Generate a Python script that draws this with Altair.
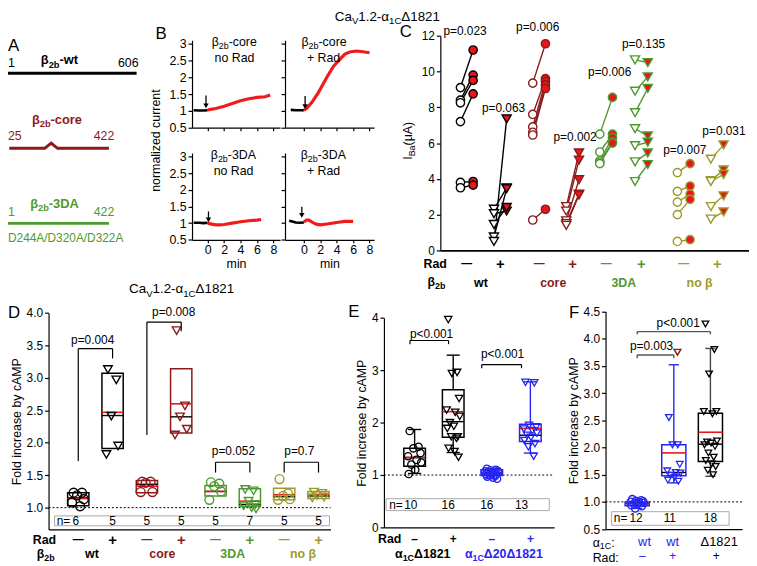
import altair as alt
import pandas as pd

FONT = "Liberation Sans"
W, H = 749, 558
DARKRED = "#8b1a1a"
GREEN = "#4f9a2f"
OLIVE = "#9d9a2b"
BLUE = "#2525f2"
RED = "#e8161b"
NBOX = "#a8a8a8"

# ===================== DATA =====================
# ---- Panel A: construct schematics (schematic units) ----
a_x_start = [0.0, 1.0, 0.0]
a_x_end = [100.0, 78.5, 78.5]
a_row = [0, 1, 2]
a_colors = ["black", DARKRED, GREEN]
a_core_x = [1.0, 28.5, 33.6, 38.5, 78.5]
a_core_y = [1.0, 1.0, 0.93, 1.0, 1.0]

# ---- Panel B: normalized current traces (min, normalized) ----
b_tl_base_t = [-1.7, -1.1, -0.5, 0.0]
b_tl_base_v = [1.02, 1.01, 1.01, 1.02]
b_tl_t = [0.0, 1.0, 2.0, 3.0, 4.0, 5.0, 6.0, 7.0, 7.6]
b_tl_v = [1.03, 1.07, 1.14, 1.22, 1.30, 1.36, 1.40, 1.42, 1.47]
b_tr_base_t = [-1.6, -1.0, -0.5, 0.0]
b_tr_base_v = [1.03, 1.02, 1.02, 1.02]
b_tr_t = [0.0, 0.4, 1.0, 1.8, 2.8, 3.6, 4.4, 5.0, 5.6, 6.4, 7.2, 8.0]
b_tr_v = [1.02, 1.09, 1.26, 1.56, 2.00, 2.32, 2.54, 2.69, 2.75, 2.78, 2.76, 2.73]
b_bl_base_t = [-1.7, -1.0, -0.5, 0.0]
b_bl_base_v = [1.01, 1.01, 1.00, 1.01]
b_bl_t = [0.0, 0.5, 1.0, 1.5, 2.0, 3.0, 4.0, 5.0, 6.0, 6.5]
b_bl_v = [1.00, 0.97, 0.95, 0.95, 0.96, 1.00, 1.04, 1.07, 1.09, 1.11]
b_br_base_t = [-1.8, -1.4, -1.0, -0.5, 0.0]
b_br_base_v = [1.07, 1.05, 1.02, 1.01, 1.02]
b_br_t = [0.0, 0.3, 0.6, 1.0, 1.5, 2.0, 3.0, 4.0, 5.0, 6.0]
b_br_v = [1.03, 1.09, 1.09, 1.03, 0.97, 0.95, 0.98, 1.02, 1.05, 1.05]
b_arrow_t = [-0.2, 0.15, 0.1, -0.25]
b_arrow_top = [1.46, 1.44, 1.35, 1.49]
b_arrow_tip = [1.09, 1.07, 1.04, 1.17]

# ---- Panel C: I_Ba before (open) / after (filled) ----
c_before = [
    [9.10, 8.40, 8.25, 7.20, 3.80, 3.50],
    [2.30, 2.05, 1.45, 0.75, 0.50],
    [9.35, 7.60, 6.90, 6.60, 6.45, 1.70],
    [2.45, 2.20, 1.65, 1.50, 1.40],
    [6.50, 5.50, 5.00, 4.90, 4.85],
    [10.65, 8.90, 7.70, 6.80, 5.85, 4.95, 3.85],
    [4.35, 3.30, 2.70, 2.00, 0.50],
    [5.10, 3.90, 3.85, 2.45, 1.75],
]
c_after = [
    [11.20, 9.80, 9.50, 8.75, 3.85, 3.65],
    [3.50, 2.20, 2.40, 3.45, 7.35],
    [11.55, 9.60, 9.45, 9.25, 9.05, 2.30],
    [5.45, 5.05, 3.95, 3.15, 3.10],
    [8.55, 6.50, 6.30, 6.05, 6.00],
    [10.50, 9.70, 9.05, 6.40, 6.05, 5.45, 4.80],
    [4.85, 3.60, 3.15, 2.85, 0.60],
    [5.90, 4.50, 4.25, 3.05, 2.15],
]
c_colors = ["black", "black", DARKRED, DARKRED, GREEN, GREEN, OLIVE, OLIVE]
c_pos = [0.0, 0.95, 2.05, 3.0, 3.95, 4.95, 6.15, 7.1]
c_p_text = ["p=0.023", "p=0.063", "p=0.006", "p=0.002", "p=0.006", "p=0.135", "p=0.007", "p=0.031"]
c_p_x = [-0.05, 1.04, 2.01, 3.07, 4.05, 5.01, 6.18, 7.29]
c_p_y = [12.28, 7.96, 12.5, 6.36, 9.96, 11.56, 5.59, 6.69]
c_group = ["wt", "core", "3DA", "no β"]
c_group_x = [0.4, 2.45, 4.45, 6.6]
group_colors = ["black", DARKRED, GREEN, OLIVE]

# ---- Panel D ----
d_q1 = [1.03, 1.91, 1.23, 2.15, 1.18, 1.02, 1.12, 1.14]
d_q3 = [1.23, 3.07, 1.42, 3.14, 1.34, 1.29, 1.30, 1.25]
d_median = [1.15, 2.42, 1.36, 2.40, 1.25, 1.05, 1.17, 1.18]
d_mean = [1.14, 2.47, 1.33, 2.60, 1.25, 1.10, 1.20, 1.20]
d_points = [
    [1.23, 1.23, 1.19, 1.13, 1.08, 1.02],
    [3.13, 2.97, 2.41, 1.95, 1.82],
    [1.40, 1.40, 1.38, 1.24, 1.24],
    [3.73, 2.57, 2.40, 2.21, 2.12],
    [1.39, 1.37, 1.33, 1.25, 1.12],
    [1.28, 1.26, 1.10, 1.05, 1.03, 1.00, 0.98],
    [1.44, 1.22, 1.18, 1.13, 1.12],
    [1.24, 1.22, 1.19, 1.16, 1.15],
]
d_n = ["6", "5", "5", "5", "5", "7", "5", "5"]
d_p_text = ["p=0.004", "p=0.008", "p=0.052", "p=0.7"]
d_p_x = [0.42, 2.78, 4.52, 6.44]
d_p_y = [3.58, 4.02, 1.87, 1.87]
d_br_a = [0, 2, 4, 6]
d_br_b = [1, 3, 5, 7]
d_br_top = [3.45, 3.86, 1.70, 1.70]
d_br_left = [1.72, 2.12, 1.54, 1.54]
d_br_right = [3.30, 3.72, 1.54, 1.54]
d_group_x = [0.4, 2.45, 4.5, 6.55]

# ---- Panel E ----
e_q1 = [1.17, 1.72, 0.99, 1.64]
e_q3 = [1.51, 2.63, 1.10, 1.97]
e_median = [1.33, 2.02, 1.04, 1.76]
e_mean = [1.34, 2.21, 1.04, 1.89]
e_lo = [1.03, 1.43, 0.93, 1.42]
e_hi = [1.87, 3.29, 1.12, 2.78]
e_points = [
    [1.84, 1.54, 1.51, 1.42, 1.36, 1.29, 1.24, 1.20, 1.10, 1.02],
    [3.97, 2.96, 2.94, 2.46, 2.24, 2.20, 2.12, 2.00, 1.93, 1.89, 1.73, 1.73, 1.70, 1.51, 1.45, 1.34],
    [1.12, 1.10, 1.09, 1.08, 1.07, 1.06, 1.05, 1.04, 1.03, 1.02, 1.01, 1.00, 0.99, 0.97, 0.95, 0.93],
    [2.77, 2.76, 1.95, 1.92, 1.88, 1.85, 1.80, 1.76, 1.72, 1.66, 1.60, 1.54, 1.36],
]
e_colors = ["black", "black", BLUE, BLUE]
e_rad = ["–", "+", "–", "+"]
e_n = ["10", "16", "16", "13"]
e_n_x = [-0.1, 0.87, 1.87, 2.77]

# ---- Panel F ----
f_q1 = [0.93, 1.48, 1.74]
f_q3 = [1.00, 2.05, 2.63]
f_median = [0.97, 1.54, 2.06]
f_mean = [0.97, 1.90, 2.28]
f_lo = [0.88, 1.35, 1.47]
f_hi = [1.05, 3.52, 3.82]
f_points = [
    [1.05, 1.03, 1.02, 1.01, 1.00, 0.99, 0.98, 0.97, 0.96, 0.94, 0.92, 0.88],
    [2.55, 2.05, 2.05, 1.69, 1.57, 1.54, 1.53, 1.49, 1.45, 1.40, 1.38],
    [4.27, 3.80, 3.35, 2.66, 2.66, 2.62, 2.12, 2.10, 2.08, 2.05, 2.02, 1.90, 1.82, 1.76, 1.70, 1.65, 1.58, 1.50],
]
f_outlier = [3.75]
f_colors = [BLUE, BLUE, "black"]
f_label = ["wt", "wt", "Δ1821"]
f_label_x = [0.2, 0.97, 2.24]
f_rad = ["–", "+", "+"]
f_rad_x = [0.14, 0.97, 2.16]
f_n = ["12", "11", "18"]
f_n_x = [-0.03, 0.89, 2.0]

JIT = [-0.15, 0.12, -0.04, 0.18, -0.2, 0.06, 0.2, -0.1, 0.02, -0.18, 0.14, -0.06,
       0.1, -0.14, 0.04, 0.16, -0.08, 0.08]

# ===================== HELPERS =====================
W_REG = {' ': 278, '(': 333, ')': 333, '+': 584, '-': 333, '.': 278, '/': 278, ':': 278,
         '<': 584, '=': 584, 'A': 667, 'B': 667, 'C': 722, 'D': 722, 'I': 278, 'R': 722,
         'V': 667, 'a': 556, 'b': 556, 'c': 500, 'd': 556, 'e': 556, 'i': 222, 'l': 222,
         'm': 833, 'n': 556, 'o': 556, 'p': 556, 'r': 333, 't': 278, 'u': 556, 'w': 722,
         's': 500, 'z': 500, 'α': 578, 'β': 575, 'Δ': 668, 'μ': 576}
W_BOLD = {**W_REG, **{'A': 722, 'B': 722, 'R': 722, 'b': 611, 'c': 556, 'd': 611, 'o': 611,
                      'r': 389, 't': 333, 'w': 778, 'n': 611, 'i': 278, 'l': 278, 'u': 611,
                      'β': 611, 'α': 611, 'Δ': 722}}

ANN_N, ANN_B = [], []


def ann(parts, x, y, size, color="black", bold=False, anchor="start", angle=0, sub_shift=0.27):
    if isinstance(parts, str):
        parts = [(parts, False)]
    tbl = W_BOLD if bold else W_REG
    sub = size * 0.72
    ws = [sum(tbl.get(ch, 556) for ch in t) * (sub if s else size) / 1000 for t, s in parts]
    total = sum(ws)
    cur = {"start": 0.0, "middle": -total / 2, "end": -total}[anchor]
    rows = ANN_B if bold else ANN_N
    for (t, s), w in zip(parts, ws):
        shift = size * sub_shift if s else 0.0
        fs = sub if s else size
        if angle == 0:
            px, py = x + cur, y + shift
        else:
            px, py = x + shift, y - cur
        rows.append(dict(x=px, y=py, text=t, size=fs, color=color, angle=angle))
        cur += w


def sc(d, r):
    return alt.Scale(domain=list(d), range=list(r), nice=False, zero=False)


AX = dict(grid=False, domainColor="black", tickColor="black", domainWidth=1.2, tickWidth=1.2,
          tickSize=4, labelFont=FONT, labelFontSize=12, labelColor="black", labelPadding=2,
          titleFont=FONT, titleFontSize=12.5, titleFontWeight="normal", titleColor="black",
          titlePadding=3, labelFlush=False, labelOverlap=False)


class Panel:
    def __init__(self, xd, xr, yd, yr, has_axes=True):
        self.xs = sc(xd, xr)
        self.ys = sc(yd, yr)
        self.xd, self.yd = xd, yd
        self.layers = []
        # layers other than the axis carrier leave the axis undefined (so the carrier's
        # explicit settings win) or switch it off when the panel has no axes at all
        self.dax = alt.Undefined if has_axes else None

    def x(self, f="x", axis="dflt"):
        return alt.X(f + ":Q", scale=self.xs, axis=self.dax if axis == "dflt" else axis)

    def y(self, f="y", axis="dflt"):
        return alt.Y(f + ":Q", scale=self.ys, axis=self.dax if axis == "dflt" else axis)

    def axes(self, xaxis, yaxis):
        df = pd.DataFrame({"x": [self.xd[0]], "y": [self.yd[0]]})
        self.layers.insert(0, alt.Chart(df).mark_point(opacity=0).encode(
            x=self.x("x", xaxis), y=self.y("y", yaxis)))

    def chart(self):
        return alt.layer(*self.layers)


def rule_layer(p, rows, width=1.2, dash=None):
    kw = dict(strokeWidth=width)
    if dash:
        kw["strokeDash"] = dash
    return alt.Chart(pd.DataFrame(rows)).mark_rule(**kw).encode(
        x=p.x("x"), x2=alt.X2("x2"), y=p.y("y"), y2=alt.Y2("y2"),
        color=alt.Color("color:N", scale=None))


def rect_layer(p, rows, width=1.4):
    return alt.Chart(pd.DataFrame(rows)).mark_rect(fillOpacity=0, strokeWidth=width).encode(
        x=p.x("x"), x2=alt.X2("x2"), y=p.y("y"), y2=alt.Y2("y2"),
        stroke=alt.Stroke("color:N", scale=None))


def point_layer(p, rows, sw=1.3, filled=False):
    enc = dict(x=p.x("x"), y=p.y("y"), shape=alt.Shape("shape:N", scale=None),
               stroke=alt.Stroke("color:N", scale=None), size=alt.Size("size:Q", scale=None))
    if filled:
        enc["fill"] = alt.Fill("fill:N", scale=None)
    return alt.Chart(pd.DataFrame(rows)).mark_point(strokeWidth=sw, opacity=1, filled=False).encode(**enc)


def text_layer(p, rows, bold=False, align="center", baseline="middle"):
    return alt.Chart(pd.DataFrame(rows)).mark_text(
        font=FONT, fontWeight="bold" if bold else "normal", align=align, baseline=baseline).encode(
        x=p.x("x"), y=p.y("y"), text=alt.Text("text:N"),
        size=alt.Size("size:Q", scale=None), color=alt.Color("color:N", scale=None))


def line_layer(p, xs, ys, color, width):
    df = pd.DataFrame({"x": xs, "y": ys, "o": list(range(len(xs)))})
    return alt.Chart(df).mark_line(color=color, strokeWidth=width).encode(
        x=p.x("x"), y=p.y("y"), order=alt.Order("o:Q"))


def box_layers(p, q1, q3, med, mean, colors, hw, lo=None, hi=None, cw=0.0, wcolors=None):
    n = len(q1)
    out = []
    if lo is not None:
        wr = []
        for i in range(n):
            c = wcolors[i]
            wr += [dict(x=i, x2=i, y=lo[i], y2=q1[i], color=c),
                   dict(x=i, x2=i, y=q3[i], y2=hi[i], color=c),
                   dict(x=i - cw, x2=i + cw, y=lo[i], y2=lo[i], color=c),
                   dict(x=i - cw, x2=i + cw, y=hi[i], y2=hi[i], color=c)]
        out.append(rule_layer(p, wr, 1.4))
    out.append(rect_layer(p, [dict(x=i - hw, x2=i + hw, y=q1[i], y2=q3[i], color=colors[i])
                              for i in range(n)], 1.5))
    out.append(rule_layer(p, [dict(x=i - hw, x2=i + hw, y=med[i], y2=med[i], color="black")
                              for i in range(n)], 1.4))
    out.append(rule_layer(p, [dict(x=i - hw, x2=i + hw, y=mean[i], y2=mean[i], color=RED)
                              for i in range(n)], 1.6))
    return out


def scatter_rows(points, colors, shapes, sizes, js=1.0):
    rows = []
    for i, vals in enumerate(points):
        for k, v in enumerate(vals):
            rows.append(dict(x=i + JIT[k % len(JIT)] * js, y=v, color=colors[i],
                             shape=shapes[i], size=sizes[i]))
    return rows


def bracket_rows(a, b, top, left, right, color="black"):
    return [dict(x=a, x2=a, y=left, y2=top, color=color),
            dict(x=a, x2=b, y=top, y2=top, color=color),
            dict(x=b, x2=b, y=right, y2=top, color=color)]


panels = []

# ===================== PANEL A =====================
A = Panel([0, 100], [0, 130], [0, 2], [63, 214.7], has_axes=False)
A.layers.append(rule_layer(A, [dict(x=a_x_start[i], x2=a_x_end[i], y=a_row[i], y2=a_row[i], color=a_colors[i])
                               for i in (0, 2)], 3))
A.layers.append(line_layer(A, a_core_x, a_core_y, DARKRED, 3))
panels.append(A.chart())

# ===================== PANEL B =====================
b_specs = [
    ([186, 275], [-1.9, 8.8], [118, 29.6], True, False, b_tl_base_t, b_tl_base_v, b_tl_t, b_tl_v, 0),
    ([280, 370], [-2.3, 8.55], [118, 29.6], False, False, b_tr_base_t, b_tr_base_v, b_tr_t, b_tr_v, 1),
    ([186, 275], [-1.9, 8.8], [231.3, 143.6], True, True, b_bl_base_t, b_bl_base_v, b_bl_t, b_bl_v, 2),
    ([280, 370], [-2.3, 8.55], [231.3, 143.6], False, True, b_br_base_t, b_br_base_v, b_br_t, b_br_v, 3),
]
for xr, xd, yr, ylab, xlab, bt, bv, rt, rv, k in b_specs:
    P = Panel(xd, xr, [0.5, 3.1], yr)
    xax = alt.Axis(orient="bottom", offset=yr[0] - H, values=[0, 2, 4, 6, 8], format="d", labels=xlab,
                   title="min" if xlab else None, **{**AX, "tickSize": 3, "labelPadding": 1,
                                                      "titlePadding": 1, "labelFontSize": 12.5})
    yax = alt.Axis(orient="left", offset=-xr[0], values=[0.5, 1, 1.5, 2, 2.5, 3], format="~g",
                   labels=ylab, title=None, **{**AX, "labelFontSize": 12.5})
    P.axes(xax, yax)
    P.layers.append(line_layer(P, bt, bv, "black", 2.6))
    P.layers.append(line_layer(P, rt, rv, "#ee1c1c", 3.2))
    P.layers.append(rule_layer(P, [dict(x=b_arrow_t[k], x2=b_arrow_t[k], y=b_arrow_top[k],
                                        y2=b_arrow_tip[k] + 0.05, color="black")], 1.3))
    P.layers.append(alt.Chart(pd.DataFrame({"x": [b_arrow_t[k]], "y": [b_arrow_tip[k] + 0.06]}))
                    .mark_point(shape="triangle-down", filled=True, size=30, color="black", opacity=1)
                    .encode(x=P.x("x"), y=P.y("y")))
    panels.append(P.chart())

# ===================== PANEL C =====================
C = Panel([-0.75, 8.0], [437, 749], [0, 12], [242, 25])
C.axes(alt.Axis(orient="bottom", offset=242 - H, labels=False, ticks=False, title=None,
                **{**AX, "domainWidth": 1.6}),
       alt.Axis(orient="left", offset=-437, values=list(range(0, 13, 2)), format="d", title=None, **AX))
segs, opens, fills = [], [], []
for i in range(8):
    shape = "circle" if i % 2 == 0 else "triangle-down"
    size = 70 if i % 2 == 0 else 85
    for b, a in zip(c_before[i], c_after[i]):
        segs.append(dict(x=c_pos[i] - 0.18, x2=c_pos[i] + 0.18, y=b, y2=a, color=c_colors[i]))
        opens.append(dict(x=c_pos[i] - 0.18, y=b, color=c_colors[i], fill="white", shape=shape, size=size))
        fills.append(dict(x=c_pos[i] + 0.18, y=a, color=c_colors[i], fill=RED, shape=shape, size=size))
C.layers.append(rule_layer(C, segs, 1.4))
C.layers.append(point_layer(C, opens, 1.4, True))
C.layers.append(point_layer(C, fills, 1.4, True))
C.layers.append(text_layer(C, [dict(x=c_p_x[i], y=c_p_y[i], text=c_p_text[i], size=12, color="black")
                               for i in range(8)]))
C.layers.append(text_layer(C, [dict(x=c_pos[i], y=-0.77, text="—" if i % 2 == 0 else "+",
                                    size=11 if i % 2 == 0 else 15, color=c_colors[i]) for i in range(8)],
                           bold=True))
C.layers.append(text_layer(C, [dict(x=c_group_x[g], y=-1.83, text=c_group[g], size=12.5,
                                    color=group_colors[g]) for g in range(4)], bold=True))
panels.append(C.chart())

# ===================== PANEL D =====================
D = Panel([-0.865, 7.35], [41, 326], [0.665, 4.0], [524, 305.3])
D.axes(alt.Axis(orient="bottom", offset=524 - H, labels=False, ticks=False, title=None, **AX),
       alt.Axis(orient="left", offset=-41, values=[1.0, 1.5, 2.0, 2.5, 3.0, 3.5, 4.0], format=".1f",
                title="Fold increase by cAMP", **AX))
D.layers.append(rule_layer(D, [dict(x=-0.865, x2=7.35, y=1.0, y2=1.0, color="black")], 1.0, [2, 2]))
D.layers.append(rect_layer(D, [dict(x=-0.69, x2=7.32, y=0.721, y2=0.873, color=NBOX)], 1.0))
D.layers += box_layers(D, d_q1, d_q3, d_median, d_mean, c_colors, 0.31)
D.layers.append(point_layer(D, scatter_rows(d_points, c_colors,
                                            ["circle", "triangle-down"] * 4, [80, 75] * 4, 0.9), 1.4))
brk = []
for j in range(4):
    brk += bracket_rows(d_br_a[j], d_br_b[j], d_br_top[j], d_br_left[j], d_br_right[j])
D.layers.append(rule_layer(D, brk, 1.2))
D.layers.append(text_layer(D, [dict(x=d_p_x[j], y=d_p_y[j], text=d_p_text[j], size=12, color="black")
                               for j in range(4)]))
D.layers.append(text_layer(D, [dict(x=-0.63, y=0.797, text="n=", size=12, color="black")], align="left"))
D.layers.append(text_layer(D, [dict(x=i - (0.07 if i == 0 else 0), y=0.797, text=d_n[i], size=12,
                                    color="black") for i in range(8)]))
D.layers.append(text_layer(D, [dict(x=i, y=0.497, text="—" if i % 2 == 0 else "+",
                                    size=11 if i % 2 == 0 else 15, color=c_colors[i]) for i in range(8)],
                           bold=True))
D.layers.append(text_layer(D, [dict(x=d_group_x[g], y=0.283, text=c_group[g], size=12.5,
                                    color=group_colors[g]) for g in range(4)], bold=True))
panels.append(D.chart())

# ===================== PANEL E =====================
E = Panel([-0.795, 3.615], [380, 552], [0, 4], [522, 310.3])
E.axes(alt.Axis(orient="bottom", offset=522 - H, labels=False, ticks=False, title=None, **AX),
       alt.Axis(orient="left", offset=-380, values=[0, 1, 2, 3, 4], format="d",
                title="Fold increase by cAMP", **AX))
E.layers.append(rule_layer(E, [dict(x=-0.795, x2=3.615, y=1.0, y2=1.0, color="black")], 1.0, [2, 2]))
E.layers.append(rect_layer(E, [dict(x=-0.74, x2=3.49, y=0.321, y2=0.548, color=NBOX)], 1.0))
E.layers += box_layers(E, e_q1, e_q3, e_median, e_mean, e_colors, 0.28, e_lo, e_hi, 0.17, e_colors)
E.layers.append(point_layer(E, scatter_rows(e_points, e_colors,
                                            ["circle", "triangle-down"] * 2, [55, 55] * 2, 0.85), 1.3))
E.layers.append(rule_layer(E, bracket_rows(-0.12, 0.88, 3.57, 3.5, 3.5) +
                           bracket_rows(1.74, 2.77, 3.11, 3.04, 3.04), 1.2))
E.layers.append(text_layer(E, [dict(x=0.44, y=3.7, text="p<0.001", size=12, color="black"),
                               dict(x=2.28, y=3.31, text="p<0.001", size=12, color="black")]))
E.layers.append(text_layer(E, [dict(x=-0.66, y=0.435, text="n=", size=12, color="black")], align="left"))
E.layers.append(text_layer(E, [dict(x=e_n_x[i], y=0.435, text=e_n[i], size=12, color="black")
                               for i in range(4)]))
E.layers.append(text_layer(E, [dict(x=i, y=-0.227, text=e_rad[i], size=12, color=e_colors[i])
                               for i in range(4)], bold=True))
panels.append(E.chart())

# ===================== PANEL F =====================
F = Panel([-0.865, 2.865], [604, 742], [0.5, 4.5], [523.7, 303.7])
F.axes(alt.Axis(orient="bottom", offset=523.7 - H, labels=False, ticks=False, title=None, **AX),
       alt.Axis(orient="left", offset=-604, values=[0.5, 1.0, 1.5, 2.0, 2.5, 3.0, 3.5, 4.0, 4.5],
                format=".1f", title="Fold increase by cAMP", **AX))
F.layers.append(rule_layer(F, [dict(x=-0.865, x2=2.865, y=1.0, y2=1.0, color="black")], 1.0, [2, 2]))
F.layers.append(rect_layer(F, [dict(x=-0.70, x2=2.51, y=0.57, y2=0.82, color=NBOX)], 1.0))
F.layers += box_layers(F, f_q1, f_q3, f_median, f_mean, f_colors, 0.33, f_lo, f_hi, 0.14,
                       [BLUE, BLUE, "#444444"])
F.layers.append(point_layer(F, scatter_rows(f_points, f_colors,
                                            ["circle", "triangle-down", "triangle-down"], [55, 45, 45], 0.9),
                            1.3))
F.layers.append(point_layer(F, [dict(x=1.1, y=v, color=DARKRED, shape="triangle-down", size=45)
                                for v in f_outlier], 1.5))
F.layers.append(rule_layer(F, bracket_rows(0, 1, 3.7, 3.64, 3.64, "#555555") +
                           bracket_rows(0, 2, 4.13, 4.08, 4.08, "#555555"), 1.4))
F.layers.append(text_layer(F, [dict(x=0.39, y=3.86, text="p=0.003", size=12, color="black"),
                               dict(x=1.12, y=4.28, text="p<0.001", size=12, color="black")]))
F.layers.append(text_layer(F, [dict(x=-0.64, y=0.695, text="n=", size=12, color="black")], align="left"))
F.layers.append(text_layer(F, [dict(x=f_n_x[i], y=0.695, text=f_n[i], size=12, color="black")
                               for i in range(3)]))
F.layers.append(text_layer(F, [dict(x=f_label_x[i], y=0.27, text=f_label[i], size=13, color=f_colors[i])
                               for i in range(3)]))
F.layers.append(text_layer(F, [dict(x=f_rad_x[i], y=0.0, text=f_rad[i], size=12, color=f_colors[i])
                               for i in range(3)]))
panels.append(F.chart())

# ===================== ANNOTATIONS (pixel layer) =====================
TITLE = [("Ca", False), ("V", True), ("1.2-α", False), ("1C", True), ("Δ1821", False)]
B2B = [("β", False), ("2b", True)]
for letter, lx, ly in [("A", 0, 40), ("B", 149, 28), ("C", 396, 26), ("D", 0, 310), ("E", 344, 309),
                       ("F", 567, 310)]:
    ann(letter, lx, ly, 17)
ann(TITLE, 383.5, 9.8, 13.5, anchor="middle", sub_shift=0.22)
ann(TITLE, 175.5, 285, 13.5, anchor="middle")
# A
ann("1", 0, 57, 12.5)
ann(B2B + [("-wt", False)], 52, 54, 13, "black", True, "middle")
ann("606", 132, 57, 12.5, anchor="end")
ann(B2B + [("-core", False)], 49.5, 114, 13, DARKRED, True, "middle")
ann("25", 0, 130, 12.5, DARKRED)
ann("422", 97, 130, 12.5, DARKRED, anchor="middle")
ann(B2B + [("-3DA", False)], 47, 199, 13, GREEN, True, "middle")
ann("1", 0, 207, 12.5, GREEN)
ann("422", 97, 207, 12.5, GREEN, anchor="middle")
ann("D244A/D320A/D322A", 0, 233.7, 12, GREEN)
# B
ann(B2B + [("-core", False)], 228.7, 35.5, 12.5, anchor="middle")
ann("no Rad", 229, 51.5, 12.5, anchor="middle")
ann(B2B + [("-core", False)], 319.5, 35.5, 12.5, anchor="middle")
ann("+ Rad", 319, 51.5, 12.5, anchor="middle")
ann(B2B + [("-3DA", False)], 227.8, 149.5, 12.5, anchor="middle")
ann("no Rad", 228, 166, 12.5, anchor="middle")
ann(B2B + [("-3DA", False)], 318.7, 149.5, 12.5, anchor="middle")
ann("+ Rad", 319, 166, 12.5, anchor="middle")
ann("normalized current", 153.5, 131, 12.5, anchor="middle", angle=270)
# C
ann([("I", False), ("Ba", True), (" (μA)", False)], 408, 129.5, 12.5, anchor="middle", angle=270)
ann("Rad", 420, 260, 12.5, bold=True)
ann(B2B, 424, 278, 12.5, bold=True)
# D
ann("Rad", 25, 539, 12.5, bold=True)
ann(B2B, 29, 553, 12.5, bold=True)
# E
ann("Rad", 374, 538, 12.5, bold=True)
ann([("α", False), ("1C", True), (" Δ1821", False)], 421, 553, 12.5, "black", True, "middle")
ann([("α", False), ("1C", True), (" Δ20Δ1821", False)], 503, 553, 12.5, BLUE, True, "middle")
# F
ann([("α", False), ("1C", True), (":", False)], 591, 541.5, 12.5, sub_shift=0.22)
ann("Rad:", 591, 556.5, 12.5)

P = Panel([0, W], [0, W], [0, H], [0, H], has_axes=False)
for rows, wt in [(ANN_N, "normal"), (ANN_B, "bold")]:
    P.layers.append(alt.Chart(pd.DataFrame(rows)).mark_text(
        align="left", baseline="alphabetic", font=FONT, fontWeight=wt).encode(
        x=P.x("x"), y=P.y("y"), text=alt.Text("text:N"),
        size=alt.Size("size:Q", scale=None), color=alt.Color("color:N", scale=None),
        angle=alt.Angle("angle:Q", scale=None)))
panels.append(P.chart())

chart = (alt.layer(*panels)
         .resolve_scale(x="independent", y="independent")
         .resolve_axis(x="independent", y="independent")
         .properties(width=W, height=H, autosize=alt.AutoSizeParams(type="none"), padding=0)
         .configure(font=FONT)
         .configure_view(stroke=None))

chart.save("out.html", embed_options={"renderer": "svg", "actions": False})
